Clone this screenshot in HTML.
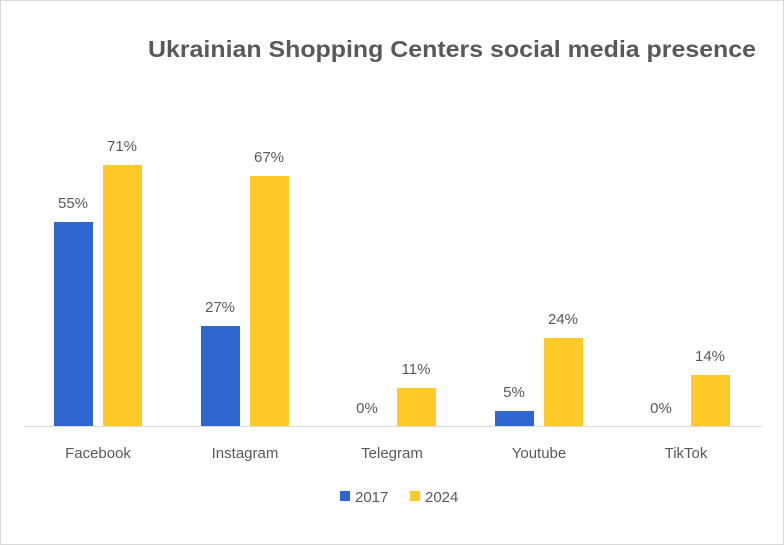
<!DOCTYPE html>
<html><head><meta charset="utf-8"><style>
html,body{margin:0;padding:0;background:#fff;}
svg{display:block;}
text{font-family:"Liberation Sans",Arial,sans-serif;fill:#595959;}
</style></head><body>
<svg width="784" height="545" viewBox="0 0 784 545" xmlns="http://www.w3.org/2000/svg">
<rect x="0.5" y="0.5" width="783" height="544" fill="#fff" stroke="#d9d9d9"/>
<text x="452" y="57" font-size="23" font-weight="bold" text-anchor="middle" textLength="608" lengthAdjust="spacingAndGlyphs">Ukrainian Shopping Centers social media presence</text>
<line x1="24" y1="426.5" x2="762" y2="426.5" stroke="#d9d9d9"/>
<g fill="#2f66cf">
<rect x="54" y="222" width="39" height="204"/>
<rect x="201" y="326" width="39" height="100"/>
<rect x="495" y="411" width="39" height="15"/>
</g>
<g fill="#ffc928">
<rect x="103" y="165" width="39" height="261"/>
<rect x="250" y="176" width="39" height="250"/>
<rect x="397" y="388" width="39" height="38"/>
<rect x="544" y="338" width="39" height="88"/>
<rect x="691" y="375" width="39" height="51"/>
</g>
<g font-size="15" text-anchor="middle">
<text x="73" y="208">55%</text>
<text x="122" y="151">71%</text>
<text x="220" y="312">27%</text>
<text x="269" y="162">67%</text>
<text x="367" y="413">0%</text>
<text x="416" y="374">11%</text>
<text x="514" y="397">5%</text>
<text x="563" y="324">24%</text>
<text x="661" y="413">0%</text>
<text x="710" y="361">14%</text>
</g>
<g font-size="15" text-anchor="middle">
<text x="98" y="458">Facebook</text>
<text x="245" y="458">Instagram</text>
<text x="392" y="458">Telegram</text>
<text x="539" y="458">Youtube</text>
<text x="686" y="458">TikTok</text>
</g>
<rect x="340" y="491" width="10" height="10" fill="#2f66cf"/>
<text x="355" y="502" font-size="15">2017</text>
<rect x="410" y="491" width="10" height="10" fill="#ffc928"/>
<text x="425" y="502" font-size="15">2024</text>
</svg>
</body></html>
